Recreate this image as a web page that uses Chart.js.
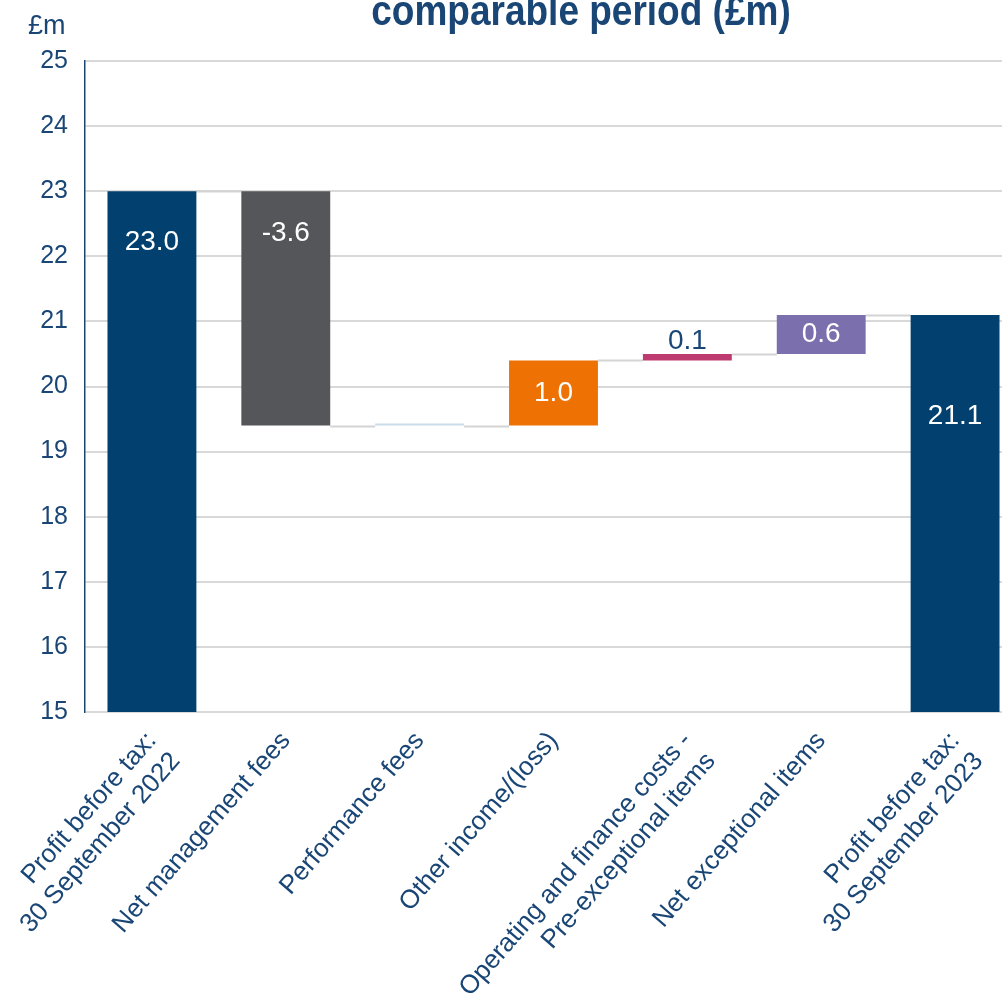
<!DOCTYPE html>
<html>
<head>
<meta charset="utf-8">
<script src="https://cdn.jsdelivr.net/npm/chart.js@4.4.1/dist/chart.umd.min.js"></script>
<style>
    html, body { margin: 0; padding: 0; background: #ffffff; }
    #wrap { width: 1002px; height: 1002px; overflow: hidden; position: relative; }
    canvas { display: block; }
</style>
</head>
<body>
<div id="wrap"><canvas id="bridgeChart" width="1024" height="1002"></canvas></div>
<script>
// Chart data
const categories = [
    ['Profit before tax:', '30 September 2022'],
    'Net management fees',
    'Performance fees',
    'Other income/(loss)',
    ['Operating and finance costs -', 'Pre-exceptional items'],
    'Net exceptional items',
    ['Profit before tax:', '30 September 2023']
];
const barStart = [15, 19.4, 19.4, 19.4, 20.4, 20.5, 15];
const barEnd = [23.0, 23.0, 19.4, 20.4, 20.5, 21.1, 21.1];
const valueLabels = ['23.0', '-3.6', '', '1.0', '0.1', '0.6', '21.1'];
const yTickValues = [15, 16, 17, 18, 19, 20, 21, 22, 23, 24, 25];

const titleText = 'comparable period (£m)';
const unitText = '£m';

// Styles
const textBlue = '#1a4676';
const barColors = ['#02406f', '#545659', '#c9dcea', '#ee7203', '#bd3b6f', '#7c6fae', '#02406f'];
const labelColors = ['#ffffff', '#ffffff', '#ffffff', '#ffffff', textBlue, '#ffffff', '#ffffff'];
// where each value label sits: offset from bar top, 'center' or 'above'
const labelPlace = [51, 42, 'center', 'center', 'above', 'center', 101];
const FONT = '"Liberation Sans", Arial, sans-serif';

// Connector lines between the floating bars
const connectorPlugin = {
    id: 'connectors',
    beforeDatasetsDraw(chart) {
        const ctx = chart.ctx;
        const bars = chart.getDatasetMeta(0).data;
        const y = chart.scales.y;
        ctx.save();
        ctx.strokeStyle = '#d4d4d4';
        ctx.lineWidth = 2;
        for (let i = 0; i < bars.length - 1; i++) {
            const a = [barStart[i], barEnd[i]];
            const b = [barStart[i + 1], barEnd[i + 1]];
            const level = a.find(v => b.includes(v));
            if (level === undefined) continue;
            const py = Math.round(y.getPixelForValue(level)) + 0.5;
            ctx.beginPath();
            ctx.moveTo(bars[i].x + bars[i].width / 2, py);
            ctx.lineTo(bars[i + 1].x - bars[i + 1].width / 2, py);
            ctx.stroke();
        }
        ctx.restore();
    }
};

// Value labels, title and unit text
const textPlugin = {
    id: 'texts',
    afterDatasetsDraw(chart) {
        const ctx = chart.ctx;
        const bars = chart.getDatasetMeta(0).data;
        ctx.save();
        ctx.font = '28px ' + FONT;
        ctx.textAlign = 'center';
        ctx.textBaseline = 'middle';
        bars.forEach((bar, i) => {
            if (!valueLabels[i]) return;
            const top = Math.min(bar.y, bar.base);
            const bottom = Math.max(bar.y, bar.base);
            let ly;
            if (labelPlace[i] === 'center') ly = (top + bottom) / 2;
            else if (labelPlace[i] === 'above') ly = top - 13;
            else ly = top + labelPlace[i];
            ctx.fillStyle = labelColors[i];
            ctx.fillText(valueLabels[i], bar.x, ly);
        });

        ctx.fillStyle = textBlue;
        ctx.font = '27px ' + FONT;
        ctx.textAlign = 'left';
        ctx.fillText(unitText, 28, 27);

        // title sits mostly above the canvas, only its lower part shows
        ctx.font = 'bold 37px ' + FONT;
        ctx.textAlign = 'center';
        ctx.textBaseline = 'alphabetic';
        ctx.translate(581, 25);
        ctx.scale(1, 1.15);
        ctx.fillText(titleText, 0, 0);
        ctx.restore();
    }
};

const ctx = document.getElementById('bridgeChart').getContext('2d');
new Chart(ctx, {
    type: 'bar',
    data: {
        labels: categories,
        datasets: [{
            data: barStart.map((s, i) => [s, barEnd[i]]),
            backgroundColor: barColors,
            borderWidth: 0,
            minBarLength: 2,
            barPercentage: 0.664,
            categoryPercentage: 1
        }]
    },
    options: {
        responsive: false,
        animation: false,
        devicePixelRatio: 1,
        layout: {
            padding: { top: 61, right: 2, left: 0, bottom: 0 }
        },
        plugins: {
            legend: { display: false },
            tooltip: { enabled: false },
            title: { display: false }
        },
        scales: {
            x: {
                grid: { display: false },
                border: { display: false },
                ticks: {
                    color: textBlue,
                    font: { family: FONT, size: 26 },
                    minRotation: 49,
                    maxRotation: 49,
                    padding: 6,
                    autoSkip: false
                },
                afterFit(scale) {
                    scale.height = 290;
                    scale.paddingLeft = 0;
                    scale.paddingRight = 0;
                }
            },
            y: {
                min: 15,
                max: 25,
                afterBuildTicks(scale) {
                    scale.ticks = yTickValues.map(v => ({ value: v }));
                },
                grid: {
                    color: '#d9d9d9',
                    lineWidth: 2,
                    drawTicks: false
                },
                border: { display: true, color: textBlue, width: 1.5 },
                ticks: {
                    color: textBlue,
                    font: { family: FONT, size: 25 },
                    padding: 17
                },
                afterFit(scale) { scale.width = 85; }
            }
        }
    },
    plugins: [connectorPlugin, textPlugin]
});
</script>
</body>
</html>
